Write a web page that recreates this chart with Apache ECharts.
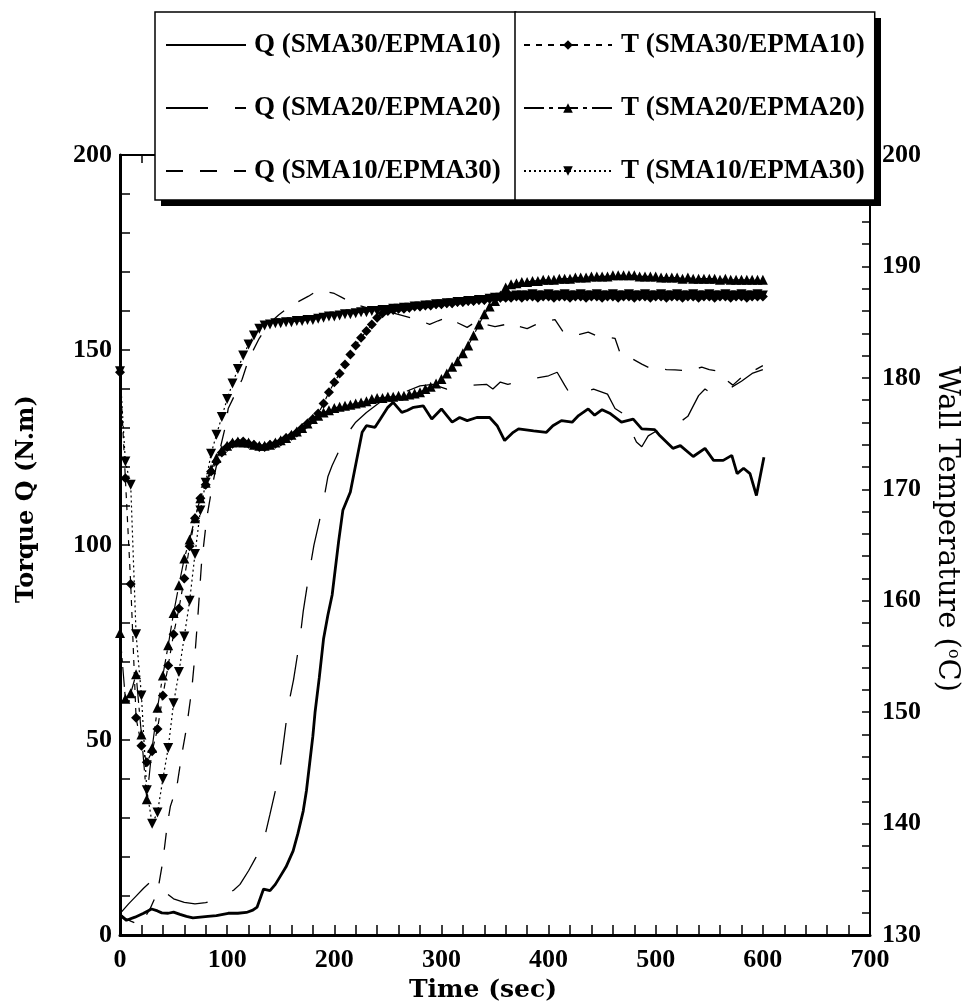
<!DOCTYPE html>
<html><head><meta charset="utf-8">
<script src="https://cdn.jsdelivr.net/npm/echarts@6/dist/echarts.min.js"></script>
<style>html,body{margin:0;padding:0;background:#fff}#c{width:972px;height:1008px}</style>
</head><body><div id="c"></div>
<script>
// ---- data: torque Q (N.m) vs time (sec), [t, Q]
const Q30 = [[0,5.1],[6,3.8],[14,4.6],[22,5.6],[29.5,6.7],[35,6.2],[39,5.7],[45,5.6],[50,5.9],[56,5.3],[62,4.8],[68,4.4],[75,4.6],[82,4.8],[90,5.0],[101,5.6],[110,5.6],[118,5.8],[124,6.4],[128,7.2],[131,9.5],[134,11.8],[140,11.4],[145,13.0],[149,14.8],[155,17.5],[161.6,21.6],[166,26],[171,31.8],[174,37],[177,44],[180,51],[182,57],[186,66],[190,76],[194,82],[198,87.2],[204,100.8],[208,108.9],[215,113.6],[221,122],[226,128.9],[230,130.6],[238,130.2],[243,132.3],[250,135.3],[255,136.6],[263,134],[268,134.5],[274,135.3],[283,135.7],[291,132.3],[300,134.9],[310,131.5],[317,132.7],[324,131.9],[333,132.7],[345,132.7],[352,130.6],[359,126.8],[367,128.9],[372,129.8],[386,129.3],[398,128.9],[404,130.6],[412,131.9],[422,131.5],[428,133.2],[437,134.9],[443,133.3],[450,134.7],[457,133.8],[468,131.5],[479,132.3],[487,129.8],[499,129.6],[504,128],[516,124.8],[523,125.5],[535,122.7],[546,124.8],[554,121.7],[563,121.7],[571,123],[576,118.3],[582,119.7],[588,118.3],[594,112.7],[601,122.5]];
const Q20 = [[0,5.5],[8,8],[15,10],[22,12],[31,14.3],[40,11.5],[50,9.3],[60,8.4],[70,8],[80,8.3],[90,9.3],[100,10.5],[106,11.5],[112,13],[120,16.5],[127,20],[134,24],[140,31],[145,37],[149,42],[152,48],[157,58.7],[162,65.5],[168,76],[171,83],[177,93.6],[181,100],[186,106],[190,111.4],[194,117.5],[198,120.4],[205,124.5],[212,128.5],[220,131.5],[230,134],[242,136.5],[255,138],[268,139.5],[280,140.8],[292,141.2],[305,140],[315,140.8],[330,141],[342,141.2],[348,140],[355,141.8],[362,141.2],[375,142],[388,142.8],[400,143.4],[408,144.3],[415,141],[421,138.3],[430,139],[442,140],[455,138.7],[462,135],[470,133.6],[476,130],[482,126.4],[487,125.2],[493,128],[501,129.3],[504,128],[512,129.5],[520,131],[530,133],[540,138.3],[546,140],[553,138.7],[560,140],[571,140.5],[580,142],[590,144],[600,145]];
const Q10 = [[0,5.5],[5,4.3],[10,3.6],[17,2.8],[23,4.5],[28,6.7],[35,11],[40,19],[44,28],[47,33],[53,38],[57.5,46],[62,53],[67,63],[70,72],[73,83],[76,95],[81,107],[86,115],[92,123],[98,130],[101,135],[108,139],[114,142.5],[120,147.6],[130,153],[140,157],[148,159],[160,161.5],[176,163.8],[183,165],[191,165.1],[200,164.5],[207,163.5],[219,161.7],[235,160.5],[255,159.5],[275,158],[289,156.6],[297,157.5],[306,158.4],[315,157],[324,155.8],[333,157.4],[342,156.5],[350,156],[359,156.5],[367,157],[373,156],[380,155.5],[388,156.5],[397,157.4],[406,157.8],[414,154.5],[422,154.2],[429,154],[437,154.6],[445,153.6],[455,153.3],[462,153],[467,149],[473,148],[479,147.6],[487,146.4],[495,145.3],[503,145.2],[510,145],[518,144.9],[525,144.8],[535,145],[543,145.6],[550,145],[558,144.6],[565,142.5],[572,141],[580,143],[590,144.5],[600,146]];

// ---- data: wall temperature T (°C), sampled times (sec)
const tT = [0,5,10,15,20,25,30,35,40,45,50,55,60,65,70,75,80,85,90,95,100,105,110,115,120,125,130,135,140,145,150,155,160,165,170,175,180,185,190,195,200,205,210,215,220,225,230,235,240,245,250,255,260,265,270,275,280,285,290,295,300,305,310,315,320,325,330,335,340,345,350,355,360,365,370,375,380,385,390,395,400,405,410,415,420,425,430,435,440,445,450,455,460,465,470,475,480,485,490,495,500,505,510,515,520,525,530,535,540,545,550,555,560,565,570,575,580,585,590,595,600];
const T30 = [180.5,171.0,161.5,149.5,147.0,145.5,146.5,148.5,151.5,154.2,
157.0,159.3,162.0,164.9,167.4,169.2,170.4,171.6,172.5,173.3,
173.8,174.1,174.2,174.3,174.1,174.0,173.8,173.8,174.0,174.1,
174.3,174.6,174.8,175.1,175.5,175.9,176.3,176.8,177.7,178.7,
179.6,180.4,181.2,182.1,182.9,183.6,184.2,184.8,185.4,185.8,
186.0,186.1,186.2,186.2,186.3,186.4,186.4,186.5,186.5,186.6,
186.6,186.7,186.7,186.8,186.8,186.9,186.9,187.0,187.0,187.1,
187.1,187.2,187.2,187.2,187.3,187.2,187.3,187.3,187.2,187.3,
187.3,187.2,187.3,187.3,187.2,187.3,187.3,187.2,187.3,187.3,
187.2,187.3,187.3,187.2,187.3,187.3,187.2,187.3,187.3,187.2,
187.3,187.3,187.2,187.3,187.3,187.2,187.3,187.3,187.2,187.3,
187.3,187.2,187.3,187.3,187.2,187.3,187.3,187.2,187.3,187.3,
187.3];
const T20 = [157.1,151.2,151.7,153.4,148.0,142.2,146.8,150.4,153.3,156.0,
158.9,161.4,163.8,165.5,167.4,169.2,170.6,171.8,172.8,173.5,
173.9,174.2,174.3,174.2,174.2,174.0,173.9,173.9,174.0,174.2,
174.4,174.6,174.9,175.2,175.5,175.9,176.3,176.6,176.9,177.1,
177.3,177.4,177.5,177.6,177.7,177.8,177.9,178.1,178.2,178.2,
178.3,178.3,178.4,178.4,178.5,178.6,178.7,179.0,179.2,179.5,
179.9,180.4,181.0,181.5,182.2,182.9,183.8,184.8,185.7,186.4,
186.9,187.4,188.1,188.4,188.5,188.6,188.6,188.7,188.7,188.8,
188.8,188.8,188.9,188.9,188.9,189.0,189.0,189.0,189.1,189.1,
189.1,189.1,189.2,189.2,189.2,189.2,189.2,189.1,189.1,189.1,
189.1,189.0,189.0,189.0,189.0,188.9,189.0,188.9,188.9,188.9,
188.9,188.9,188.8,188.9,188.8,188.8,188.8,188.8,188.8,188.8,
188.8];
const T10 = [180.6,172.5,170.4,157.0,151.5,143.0,140.0,141.0,144.0,146.8,
150.8,153.6,156.8,160.0,164.2,168.1,170.6,173.2,174.9,176.5,
178.1,179.5,180.8,182.0,183.0,183.8,184.4,184.7,184.8,184.9,
184.9,185.0,185.0,185.1,185.1,185.2,185.2,185.3,185.4,185.5,
185.5,185.6,185.7,185.7,185.8,185.9,185.9,186.0,186.0,186.1,
186.1,186.2,186.2,186.3,186.3,186.4,186.4,186.5,186.5,186.6,
186.6,186.7,186.7,186.8,186.8,186.9,186.9,187.0,187.0,187.1,
187.2,187.2,187.3,187.3,187.4,187.4,187.4,187.5,187.4,187.4,
187.5,187.4,187.4,187.5,187.4,187.4,187.5,187.4,187.4,187.5,
187.4,187.4,187.5,187.4,187.4,187.5,187.4,187.4,187.5,187.4,
187.4,187.5,187.4,187.4,187.5,187.4,187.4,187.5,187.4,187.4,
187.5,187.4,187.4,187.5,187.4,187.4,187.5,187.4,187.4,187.5,
187.4];

const names = {
  q30: 'Q (SMA30/EPMA10)', q20: 'Q (SMA20/EPMA20)', q10: 'Q (SMA10/EPMA30)',
  t30: 'T (SMA30/EPMA10)', t20: 'T (SMA20/EPMA20)', t10: 'T (SMA10/EPMA30)'
};

function pairs(ts, vs) { return ts.map((t, i) => [t, vs[i]]); }

const BLACK = '#000';
const tickFont = {fontFamily: 'Liberation Serif', fontWeight: 'bold', fontSize: 26, color: BLACK};
const legendText = {fontFamily: 'Liberation Serif', fontWeight: 'bold', fontSize: 27, color: BLACK, lineHeight: 30};

const chart = echarts.init(document.getElementById('c'), null, {renderer: 'canvas'});
chart.setOption({
  animation: false,
  backgroundColor: '#fff',
  grid: {left: 120, right: 102, top: 155, bottom: 70},
  // drop shadows behind the two legend boxes
  graphic: [
    {type: 'rect', left: 161, top: 18, z: 3.5, shape: {width: 360, height: 188}, style: {fill: BLACK}},
    {type: 'rect', left: 521, top: 18, z: 3.5, shape: {width: 360, height: 188}, style: {fill: BLACK}}
  ],
  legend: [{
    orient: 'vertical', left: 155, top: 12, z: 6,
    padding: [18, 15, 14, 10], itemGap: 33, itemWidth: 80, itemHeight: 12,
    backgroundColor: '#fff', borderColor: BLACK, borderWidth: 1.5,
    selectedMode: false,
    textStyle: Object.assign({padding: [0, 0, 0, 3]}, legendText),
    data: [
      {name: names.q30, itemStyle: {opacity: 0}},
      {name: names.q20, itemStyle: {opacity: 0}},
      {name: names.q10, itemStyle: {opacity: 0}}
    ]
  }, {
    orient: 'vertical', left: 515, top: 12, z: 6,
    padding: [18, 10, 14, 8], itemGap: 33, itemWidth: 88, itemHeight: 12,
    backgroundColor: '#fff', borderColor: BLACK, borderWidth: 1.5,
    selectedMode: false,
    textStyle: Object.assign({padding: [0, 0, 0, 4]}, legendText),
    data: [names.t30, names.t20, names.t10]
  }],
  xAxis: [{
    type: 'value', min: 0, max: 700, interval: 100,
    name: 'Time (sec)', nameLocation: 'middle', nameGap: 42,
    nameTextStyle: {fontFamily: 'DejaVu Serif', fontWeight: 'bold', fontSize: 25, color: BLACK, padding: [0, 24, 0, 0]},
    axisLine: {show: true, onZero: false, lineStyle: {color: BLACK, width: 3}},
    axisTick: {show: true, inside: true, length: 10, lineStyle: {color: BLACK, width: 1.5}},
    minorTick: {show: true, splitNumber: 5, length: 10, lineStyle: {color: BLACK, width: 1.5}},
    axisLabel: Object.assign({margin: 12}, tickFont),
    splitLine: {show: false}, minorSplitLine: {show: false}
  }, {
    type: 'value', position: 'top', min: 0, max: 700, interval: 100,
    axisLine: {show: true, onZero: false, lineStyle: {color: BLACK, width: 2}},
    axisTick: {show: true, inside: true, length: 8, lineStyle: {color: BLACK, width: 1.5}},
    minorTick: {show: true, splitNumber: 5, length: 8, lineStyle: {color: BLACK, width: 1.5}},
    axisLabel: {show: false},
    splitLine: {show: false}, minorSplitLine: {show: false}
  }],
  yAxis: [{
    type: 'value', position: 'left', min: 0, max: 200, interval: 50,
    name: 'Torque Q (N.m)', nameLocation: 'middle', nameGap: 81, nameRotate: 90,
    nameTextStyle: {fontFamily: 'DejaVu Serif', fontWeight: 'bold', fontSize: 24, color: BLACK, padding: [0, 0, 0, 92]},
    axisLine: {show: true, onZero: false, lineStyle: {color: BLACK, width: 3}},
    axisTick: {show: true, inside: true, length: 10, lineStyle: {color: BLACK, width: 1.5}},
    minorTick: {show: true, splitNumber: 5, length: 10, lineStyle: {color: BLACK, width: 1.5}},
    axisLabel: Object.assign({margin: 8}, tickFont),
    splitLine: {show: false}, minorSplitLine: {show: false}
  }, {
    type: 'value', position: 'right', min: 130, max: 200, interval: 10,
    name: 'Wall Temperature ({sup|o}C)', nameLocation: 'middle', nameGap: 60, nameRotate: -90,
    nameTextStyle: {fontFamily: 'DejaVu Serif', fontSize: 29, color: BLACK, padding: [0, 32, 0, 0],
      rich: {sup: {fontFamily: 'DejaVu Serif', fontSize: 16, color: BLACK, verticalAlign: 'top', lineHeight: 15}}},
    axisLine: {show: true, onZero: false, lineStyle: {color: BLACK, width: 2}},
    axisTick: {show: true, inside: true, length: 8, lineStyle: {color: BLACK, width: 1.5}},
    minorTick: {show: true, splitNumber: 5, length: 8, lineStyle: {color: BLACK, width: 1.5}},
    axisLabel: Object.assign({margin: 12}, tickFont),
    splitLine: {show: false}, minorSplitLine: {show: false}
  }],
  series: [
    {type: 'line', name: names.q30, data: Q30, xAxisIndex: 0, yAxisIndex: 0, symbol: 'none',
     lineStyle: {color: BLACK, width: 2.8, type: 'solid'}, itemStyle: {color: BLACK}, z: 3},
    {type: 'line', name: names.q20, data: Q20, xAxisIndex: 0, yAxisIndex: 0, symbol: 'none',
     lineStyle: {color: BLACK, width: 1.3, type: [42, 27]}, itemStyle: {color: BLACK}, z: 3},
    {type: 'line', name: names.q10, data: Q10, xAxisIndex: 0, yAxisIndex: 0, symbol: 'none',
     lineStyle: {color: BLACK, width: 1.3, type: [17, 17]}, itemStyle: {color: BLACK}, z: 3},
    {type: 'line', name: names.t30, data: pairs(tT, T30), xAxisIndex: 0, yAxisIndex: 1,
     symbol: 'diamond', symbolSize: 10,
     lineStyle: {color: BLACK, width: 1.2, type: [6, 6]}, itemStyle: {color: BLACK, borderWidth: 0}, z: 2},
    {type: 'line', name: names.t20, data: pairs(tT, T20), xAxisIndex: 0, yAxisIndex: 1,
     symbol: 'triangle', symbolSize: 10,
     lineStyle: {color: BLACK, width: 1.2, type: [20, 5, 4, 5]}, itemStyle: {color: BLACK, borderWidth: 0}, z: 2},
    {type: 'line', name: names.t10, data: pairs(tT, T10), xAxisIndex: 0, yAxisIndex: 1,
     symbol: 'triangle', symbolRotate: 180, symbolSize: 10,
     lineStyle: {color: BLACK, width: 1.2, type: [2, 3]}, itemStyle: {color: BLACK, borderWidth: 0}, z: 2}
  ]
});
</script>
</body></html>
